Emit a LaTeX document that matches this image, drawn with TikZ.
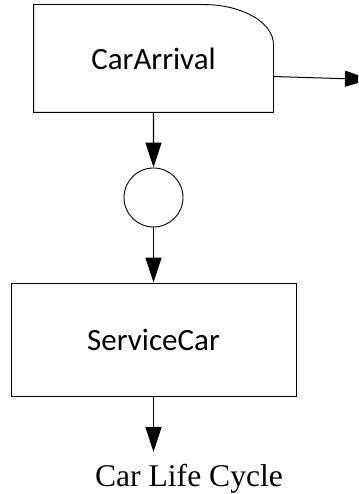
\documentclass[tikz,border=0pt]{standalone}
\usepackage{fontspec}
\setmainfont{Liberation Serif}
\newfontfamily\boxfont{Carlito}
\usetikzlibrary{calc, arrows.meta}

\tikzset{
  flow/.style={line width=1.3pt, -{Triangle[length=25pt, width=16pt]}},
  act/.style={draw, line width=0.9pt, font=\boxfont\fontsize{31}{37}\selectfont},
}

\begin{document}
\begin{tikzpicture}[x=1pt, y=1pt]
        \clip (0,0) rectangle (358,494);
        % activity with the rounded top right corner
        \node[act, draw=none, minimum width=239pt, minimum height=107pt, inner sep=0pt] (arr) at (153.5,435.5) {CarArrival};
        \draw[line width=0.9pt] (arr.south west) -- (arr.north west) -- ([xshift=-70pt]arr.north east)
              arc[start angle=90, end angle=0, x radius=70, y radius=40] -- (arr.south east) -- cycle;
        \node[draw, circle, line width=0.9pt, minimum size=59pt, inner sep=0pt] (st) at (153.5,296.5) {};
        \node[act, minimum width=285pt, minimum height=113pt, inner sep=0pt] (srv) at (153.5,154.5) {ServiceCar};
        \coordinate (out) at (370,414.5);
        \coordinate (fin) at (153.5,42);
        \draw[flow] ($(arr.south west)!0.5!(arr.south east)$) -- (st.north);
        \draw[flow] (st.south) -- (srv.north);
        \draw[flow] (srv.south) -- (fin);
        \draw[flow, line width=1pt] ([yshift=-18pt]arr.east) -- (out);
        \node[anchor=base, font=\fontsize{31.6}{38}\selectfont, inner sep=0pt] (title) at (189,7) {Car Life Cycle};
\end{tikzpicture}
\end{document}
